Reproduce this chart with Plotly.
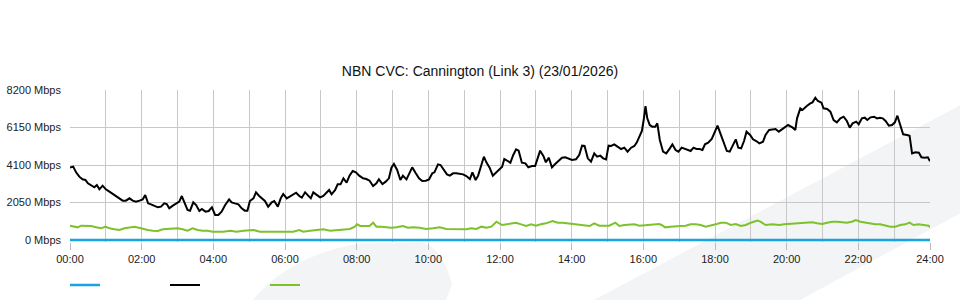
import plotly.graph_objects as go

# ---- data (hours since midnight, Mbps) ----
black_hours = [0.00,0.09,0.17,0.26,0.35,0.43,0.50,0.59,0.68,0.75,0.82,0.91,1.00,1.10,1.19,1.28,1.38,1.47,1.56,1.66,1.75,1.84,1.94,2.03,2.10,2.18,2.26,2.35,2.45,2.54,2.63,2.70,2.77,2.87,2.96,3.05,3.12,3.19,3.28,3.35,3.44,3.52,3.61,3.68,3.78,3.87,3.96,4.05,
    4.14,4.23,4.33,4.44,4.51,4.60,4.70,4.79,4.88,4.95,5.02,5.12,5.19,5.28,5.38,5.44,5.53,5.63,5.70,5.80,5.88,5.95,6.05,6.14,6.23,6.31,6.40,6.47,6.56,6.63,6.72,6.79,6.88,6.98,7.07,7.16,7.23,7.30,7.40,7.47,7.55,7.63,7.72,7.80,7.89,7.98,8.07,
    8.18,8.27,8.36,8.46,8.55,8.62,8.72,8.81,8.90,8.97,9.04,9.13,9.22,9.29,9.39,9.48,9.55,9.65,9.74,9.83,9.93,10.02,10.11,10.17,10.27,10.34,10.43,10.52,10.60,10.69,10.78,10.88,10.97,11.06,11.16,11.23,11.32,11.39,11.48,11.55,11.62,11.71,11.80,11.90,11.99,
    12.06,12.12,12.21,12.29,12.37,12.45,12.52,12.61,12.71,12.79,12.89,12.98,13.05,13.12,13.21,13.28,13.36,13.45,13.54,13.64,13.73,13.82,13.92,14.01,14.12,14.21,14.29,14.36,14.45,14.54,14.63,14.71,14.80,14.88,14.96,15.03,15.10,15.19,15.28,15.38,15.47,15.56,15.66,15.75,15.82,15.89,15.96,16.01,16.06,
    16.11,16.18,16.25,16.33,16.39,16.46,16.55,16.64,16.74,16.81,16.90,16.98,17.07,17.16,17.26,17.32,17.40,17.48,17.57,17.65,17.72,17.81,17.91,17.98,18.07,18.16,18.25,18.33,18.41,18.50,18.58,18.65,18.73,18.81,18.88,18.98,19.06,19.15,19.24,19.34,19.41,19.51,19.60,19.69,19.78,19.88,19.97,20.04,
    20.17,20.24,20.29,20.38,20.44,20.50,20.57,20.66,20.72,20.80,20.87,20.97,21.03,21.13,21.22,21.31,21.40,21.50,21.59,21.68,21.76,21.84,21.94,22.01,22.10,22.18,22.25,22.34,22.44,22.52,22.60,22.68,22.76,22.85,22.94,23.02,23.09,23.17,23.25,23.36,23.43,23.50,23.59,23.69,23.76,23.85,23.94,24.00]
black_mbps = [3954,4009,3699,3462,3317,3280,3098,3007,2879,3007,2770,2970,2770,2642,2515,2405,2241,2150,2150,2278,2150,2095,2150,2223,2460,2005,1950,1877,1786,1822,2005,1968,1731,1877,2005,2095,2405,2095,1640,1603,2059,1913,1585,1695,1549,1585,1786,1367,
    1367,1549,1913,2223,2059,2004,1950,1731,1603,1603,2132,2278,2605,2405,2241,2132,1822,2059,2132,1822,2278,2514,2278,2369,2496,2587,2405,2314,2605,2460,2278,2605,2460,2332,2405,2605,2733,2496,2733,3043,3043,3371,3134,3517,3772,3699,3517,
    3371,3334,3243,2952,3097,3316,3061,3189,3371,3954,4154,3826,3280,3516,3316,3699,3972,3644,3371,3225,3243,3316,3644,3699,4136,4100,3826,3589,3517,3644,3644,3608,3589,3498,3334,3699,3280,3517,4191,4555,4245,3954,3517,3699,3826,
    4008,4428,4318,4227,4646,4956,4883,4227,4191,3972,4045,4045,4464,4883,4592,4245,4500,3972,4154,4318,4500,4519,4428,4373,4409,4646,5156,5138,4464,4282,4737,4555,4610,4464,4409,5156,5138,5229,5102,4974,5047,4828,5047,5138,5339,5648,5958,6559,7324,
    6650,6286,6195,6195,6377,5466,4828,4737,5011,5229,4919,4828,5047,4974,4919,4865,5047,4974,4974,4919,5229,5320,5521,5830,6250,5776,5229,4865,4828,5156,5503,5047,5011,5412,5922,5740,5503,5412,5284,5375,5740,6013,6049,6068,5922,6068,6195,6286,
    6140,6013,6650,7197,7106,7234,7343,7470,7525,7780,7598,7507,7197,7161,7015,6559,6432,6650,6741,6504,6140,6377,6468,6323,6650,6687,6559,6705,6741,6650,6687,6650,6504,6250,6286,6432,6796,6286,5776,5740,5703,4737,4792,4774,4519,4500,4519,4300]

green_hours = [0.00,0.12,0.21,0.31,0.45,0.59,0.73,0.87,0.99,1.10,1.24,1.38,1.52,1.66,1.80,1.92,2.03,2.17,2.31,2.45,2.59,2.73,2.87,3.00,3.14,3.28,3.42,3.56,3.70,3.84,3.98,
    4.09,4.28,4.47,4.65,4.84,4.98,5.12,5.30,5.49,5.67,5.86,6.05,6.23,6.40,6.51,6.70,6.88,7.07,7.26,7.44,7.63,7.81,7.95,
    8.01,8.10,8.27,8.36,8.46,8.55,8.69,8.83,8.97,9.11,9.29,9.43,9.57,9.76,9.94,10.13,10.32,10.50,10.69,10.87,11.06,11.20,11.34,11.48,11.62,11.76,11.90,12.06,
    12.17,12.31,12.45,12.59,12.73,12.87,13.00,13.14,13.28,13.47,13.61,13.75,13.89,14.03,14.17,14.31,14.50,14.63,14.77,14.91,15.05,15.22,15.33,15.47,15.61,15.75,15.89,16.06,
    16.16,16.30,16.44,16.51,16.61,16.76,16.90,17.04,17.18,17.32,17.46,17.60,17.74,17.88,18.02,18.16,18.30,18.44,18.58,18.72,18.86,19.00,19.18,19.27,19.41,19.60,19.79,19.93,20.05,
    20.15,20.29,20.43,20.57,20.71,20.85,20.99,21.13,21.27,21.41,21.54,21.68,21.82,21.93,22.06,22.19,22.33,22.47,22.61,22.75,22.89,23.03,23.17,23.31,23.43,23.54,23.68,23.82,23.96,24.00]
green_mbps = [783,729,692,783,765,765,692,638,729,638,583,547,638,692,729,674,601,547,510,492,583,601,583,638,583,510,638,547,510,510,456,
    456,456,510,456,510,547,547,456,456,456,456,492,456,547,456,510,547,583,510,547,547,601,729,
    856,765,783,765,947,729,729,692,674,692,765,674,692,674,601,638,692,601,583,583,583,638,601,729,674,729,1002,820,
    856,911,947,856,765,856,783,856,911,1039,947,947,911,856,856,820,765,911,783,783,783,947,765,820,820,856,783,820,
    820,856,875,820,692,729,729,765,783,856,856,820,729,783,856,947,947,820,875,765,820,947,1057,1002,820,856,820,856,875,
    856,875,911,947,966,911,875,947,1002,1002,966,947,1002,1093,1002,947,911,856,856,783,729,729,820,856,947,820,856,820,783,692]

zero_hours = [0, 24]
zero_mbps = [0, 0]

y_ticks = [0, 2050, 4100, 6150, 8200]
y_ticktext = ["%d Mbps" % v for v in y_ticks]
x_ticks = list(range(0, 25, 2))
x_ticktext = ["%02d:00" % h for h in x_ticks]
x_minor = list(range(1, 24, 2))

title_text = "NBN CVC: Cannington (Link 3) (23/01/2026)"

FONT = "Liberation Sans, Arial, Helvetica, sans-serif"
GRID = "#c8c8c8"
BG = "#f3f4f6"

# plot area: top at 90 px, bottom at 242 px (a 2 px strip below zero so the zero line is not clipped)
TOP, BOT = 90, 242
Y_MAX = 8200
MBPS_PER_PX = 8200 / 150.0
Y_MIN = -(BOT - 240) * MBPS_PER_PX

fig = go.Figure()
fig.add_trace(go.Scatter(x=zero_hours, y=zero_mbps, mode="lines", name=" ",
                         line=dict(color="#18a4e0", width=2.5)))
fig.add_trace(go.Scatter(x=black_hours, y=black_mbps, mode="lines", name=" ",
                         line=dict(color="#000000", width=2)))
fig.add_trace(go.Scatter(x=green_hours, y=green_mbps, mode="lines", name=" ",
                         line=dict(color="#7dc12b", width=2)))

def px(xp, yp):
    return (xp - 70) / 860.0, (BOT - yp) / float(BOT - TOP)

def path(points_cmds):
    out = []
    for cmd, pts in points_cmds:
        s = cmd
        for (a, b) in pts:
            xp, yp = px(a, b)
            s += " %.4f,%.4f" % (xp, yp)
        out.append(s)
    return " ".join(out) + " Z"

band = path([("M", [(594, 300)]), ("L", [(1000, 84)]), ("L", [(1000, 192)]), ("L", [(800, 300)])])
leaf = path([("M", [(253, 300)]), ("Q", [(290, 255), (360, 243.5)]), ("L", [(420, 242.5)]),
             ("Q", [(442, 245), (452, 285)]), ("L", [(446, 300)])])

for p in (band, leaf):
    fig.add_shape(type="path", path=p, xref="paper", yref="paper",
                  fillcolor=BG, line=dict(width=0), layer="below")

fig.update_layout(
    width=960, height=300,
    margin=dict(l=70, r=30, t=TOP, b=300 - BOT, autoexpand=False),
    paper_bgcolor="white", plot_bgcolor="rgba(0,0,0,0)",
    font=dict(family=FONT, size=11, color="#222222"),
    title=dict(text=title_text, x=0.5, xanchor="center", y=1 - 71 / 300, yanchor="middle",
               font=dict(family=FONT, size=14, color="#111111")),
    showlegend=True,
    legend=dict(orientation="h", xref="container", yref="container",
                x=65 / 960, y=(300 - 285) / 300, xanchor="left", yanchor="middle",
                entrywidth=55, entrywidthmode="pixels", bgcolor="rgba(0,0,0,0)",
                font=dict(size=11)),
)
fig.update_xaxes(range=[0, 24], tickmode="array", tickvals=x_ticks, ticktext=x_ticktext,
                 ticks="outside", ticklen=7, tickcolor="#bbbbbb", showgrid=True, gridcolor=GRID,
                 gridwidth=1, zeroline=False, showline=False, automargin=False,
                 minor=dict(tickmode="array", tickvals=x_minor, showgrid=True, gridcolor=GRID, ticks=""),
                 tickfont=dict(size=11, color="#222222"))
fig.update_yaxes(range=[Y_MIN, Y_MAX], tickmode="array", tickvals=y_ticks, ticktext=y_ticktext,
                 showgrid=True, gridcolor=GRID, gridwidth=1, zeroline=False, showline=False,
                 ticks="", ticklabelstandoff=8, automargin=False,
                 tickfont=dict(size=11, color="#222222"))

fig.write_html("out.html")
